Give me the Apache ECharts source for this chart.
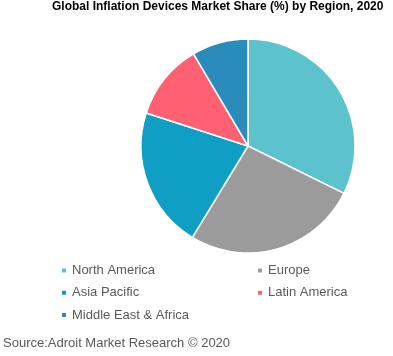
<!DOCTYPE html>
<html>
<head>
<meta charset="utf-8">
<script src="https://cdn.jsdelivr.net/npm/echarts@6/dist/echarts.min.js"></script>
<style>
html,body{margin:0;padding:0;background:#fff;}
#chart{width:393px;height:356px;}
</style>
</head>
<body>
<div id="chart"></div>
<script>
const titleText = 'Global Inflation Devices Market Share (%) by Region, 2020';
const sourceText = 'Source:Adroit Market Research \u00a9 2020';
const regions = ['North America', 'Europe', 'Asia Pacific', 'Latin America', 'Middle East & Africa'];
const shares = [32.3, 26.4, 21.3, 11.5, 8.5];
const colors = ['#5BC2CE', '#9B9B9B', '#0F9FC4', '#FF6173', '#2A8CBB'];
const legendCol1 = ['North America', 'Asia Pacific', 'Middle East & Africa'];
const legendCol2 = ['Europe', 'Latin America'];

const font = '"Liberation Sans", Arial, sans-serif';
const legendBase = {
  orient: 'vertical',
  icon: 'rect',
  itemWidth: 6,
  itemHeight: 6,
  itemGap: 9.3,
  padding: 0,
  textStyle: { fontFamily: font, fontSize: 13, color: '#595959', lineHeight: 13 },
  selectedMode: false
};
const chart = echarts.init(document.getElementById('chart'));
chart.setOption({
  animation: false,
  color: colors,
  title: {
    text: titleText,
    left: 52,
    top: 1,
    padding: 0,
    textStyle: { fontFamily: font, fontSize: 12, fontWeight: 'bold', color: '#000' }
  },
  legend: [
    Object.assign({}, legendBase, { data: legendCol1, left: 60, top: 264 }),
    Object.assign({}, legendBase, { data: legendCol2, left: 256, top: 264 })
  ],
  graphic: [{
    type: 'text',
    left: 3,
    top: 337,
    style: { text: sourceText, font: '13px ' + font, fill: '#595959' }
  }],
  series: [{
    type: 'pie',
    center: [248, 146],
    radius: 107,
    startAngle: 90,
    clockwise: true,
    label: { show: false },
    labelLine: { show: false },
    emphasis: { disabled: true },
    itemStyle: { borderColor: '#fff', borderWidth: 1.5 },
    data: regions.map((r, i) => ({ name: r, value: shares[i] }))
  }]
});
</script>
</body>
</html>
